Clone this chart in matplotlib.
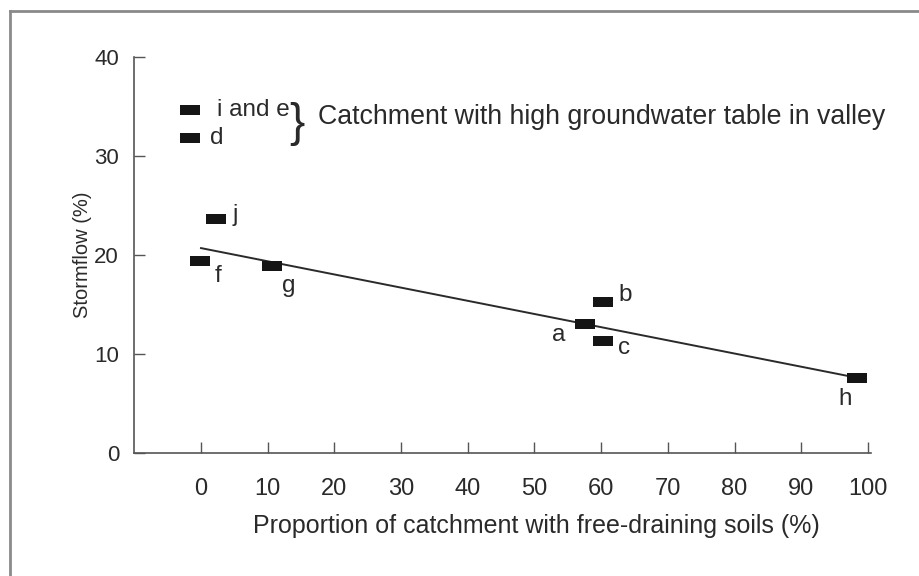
import numpy as np
import matplotlib.pyplot as plt
from matplotlib.path import Path
from matplotlib.lines import Line2D

plt.rcParams['font.family'] = ['Liberation Sans', 'DejaVu Sans']

# Catchment data: proportion of free-draining soils (%) vs stormflow (%)
names = ['i and e', 'd', 'j', 'f', 'g', 'a', 'b', 'c', 'h']
soil = [-1.6, -1.6, 2.2, -0.2, 10.6, 57.6, 60.3, 60.3, 98.4]
storm = [34.6, 31.8, 23.6, 19.4, 18.9, 13.0, 15.3, 11.3, 7.6]
# label offsets in pixels (dx, dy) and horizontal alignment
offsets = [(27, 0), (20, 0), (17, 4), (15, -15), (10, -20),
           (-20, -11), (15, 7), (15, -7), (-12, -21)]
aligns = ['left', 'left', 'left', 'left', 'left', 'right', 'left', 'left', 'center']

# fitted line end points
fit_x = [0, 98.4]
fit_y = [20.7, 7.6]

note = 'Catchment with high groundwater table in valley'

xticks = list(range(0, 101, 10))
yticks = [0, 10, 20, 30, 40]

ink = '#2a2a2a'
rect = Path([(-1, -0.45), (1, -0.45), (1, 0.45), (-1, 0.45), (-1, -0.45)],
            [Path.MOVETO, Path.LINETO, Path.LINETO, Path.LINETO, Path.CLOSEPOLY])

fig = plt.figure(figsize=(9.2, 5.76), dpi=100)
ax = fig.add_axes([0.146, 0.2135, 0.801, 0.6875])

ax.plot(fit_x, fit_y, color=ink, lw=1.4)
ax.plot(soil, storm, linestyle='none', marker=rect, markersize=15,
        color='#151515', markeredgewidth=0)

for n, x, y, (dx, dy), ha in zip(names, soil, storm, offsets, aligns):
    ax.annotate(n, (x, y), xytext=(dx, dy), textcoords='offset pixels',
                ha=ha, va='center', fontsize=17.5, color=ink)

# brace and note for the high groundwater catchments
ax.text(14.4, 33.2, '}', fontsize=33, ha='center', va='center', color=ink,
        fontweight='light')
ax.text(17.6, 33.9, note, fontsize=19.3, ha='left', va='center', color=ink)

ax.set_xlim(-10, 100.5)
ax.set_ylim(0, 40)
ax.set_xticks(xticks)
ax.set_yticks(yticks)
ax.tick_params(direction='in', length=8, width=1, colors='#555555',
               labelcolor=ink, labelsize=17)
ax.tick_params(axis='x', pad=18)
ax.tick_params(axis='y', pad=11, labelsize=16)
for s in ['top', 'right']:
    ax.spines[s].set_visible(False)
for s in ['left', 'bottom']:
    ax.spines[s].set_color('#555555')
    ax.spines[s].set_linewidth(1.2)

ax.set_xlabel('Proportion of catchment with free-draining soils (%)',
              fontsize=18, color=ink)
ax.set_ylabel('Stormflow (%)', fontsize=14.5, color=ink)
ax.xaxis.set_label_coords(0.545, -0.155)
ax.yaxis.set_label_coords(-0.058, 0.5)

# scanned page frame (top and left edges)
fig.add_artist(Line2D([0.011, 1.0], [0.981, 0.981], color='#8a8a8a', lw=2,
                      transform=fig.transFigure))
fig.add_artist(Line2D([0.011, 0.011], [0.0, 0.981], color='#8a8a8a', lw=2,
                      transform=fig.transFigure))

fig.savefig('out.png', dpi=100)
